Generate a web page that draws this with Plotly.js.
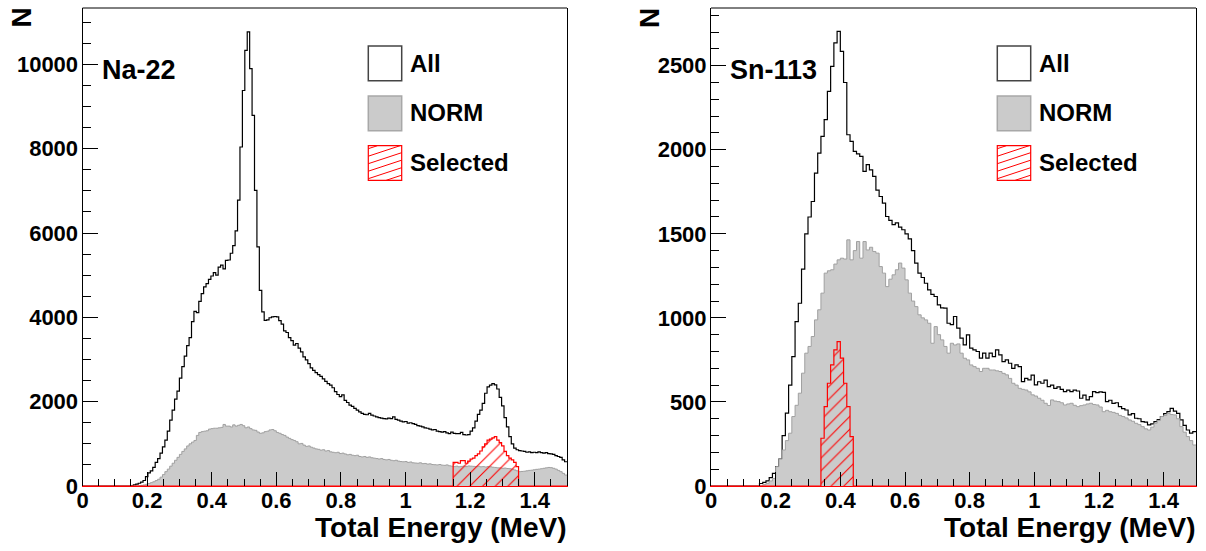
<!DOCTYPE html>
<html><head><meta charset="utf-8">
<script src="https://cdn.plot.ly/plotly-3.0.1.min.js"></script>
<style>html,body{margin:0;padding:0;background:#fff}#chart{width:1206px;height:551px}</style>
</head><body><div id="chart"></div>
<script>
// ---------------- data ----------------
// Na-22 : 200 bins of 0.0075 MeV from 0
const naBinWidth = 0.0075;
const naAll = [
0,0,0,0,0,0,0,0,0,0, 0,0,0,0,0,0,0,0,0,0,
10,25,45,65,90,130,220,310,360,440,
560,650,780,930,1090,1300,1560,1800,2060,2250,
2560,2830,3080,3330,3520,3900,4140,4110,4380,4560,
4720,4800,4900,4980,5060,5000,5190,5240,5150,5350,
5360,5520,5700,6050,6780,8040,9380,10330,10770,9900,
8790,7010,5670,4640,4130,3930,3940,3990,4010,4020,
4010,3920,3840,3680,3640,3520,3450,3340,3380,3270,
3180,3060,2990,2900,2800,2740,2690,2640,2600,2540,
2480,2430,2390,2330,2240,2170,2120,2160,2030,1980,
1920,1890,1840,1800,1760,1720,1700,1690,1720,1680,
1660,1640,1620,1610,1600,1590,1610,1600,1640,1580,
1560,1540,1520,1530,1490,1500,1480,1460,1430,1420,
1400,1380,1370,1350,1330,1340,1300,1290,1280,1290,
1260,1240,1280,1250,1240,1240,1270,1220,1210,1220,
1300,1380,1540,1700,1800,1960,2200,2350,2390,2430,
2400,2300,2100,1900,1620,1400,1170,1000,900,860,
840,830,820,800,810,790,800,790,810,790,
780,790,770,760,750,720,700,680,620,575];
const naNorm = [
0,0,0,0,0,0,0,0,0,0, 0,0,0,0,0,0,0,0,0,0,
0,0,0,5,15,25,40,60,80,100,
130,160,210,270,340,400,470,540,610,680,
750,820,880,950,1000,1040,1080,1200,1270,1290,
1300,1310,1350,1360,1370,1370,1380,1390,1460,1420,
1420,1400,1450,1420,1440,1460,1430,1380,1400,1360,
1330,1320,1280,1250,1260,1290,1300,1330,1340,1310,
1270,1250,1220,1200,1160,1130,1100,1080,1050,1000,
1010,970,940,950,920,900,880,870,850,860,
830,840,810,800,790,800,770,780,760,740,
750,730,720,730,700,690,700,680,690,670,
660,650,640,650,630,620,630,610,600,610,
590,580,575,580,560,570,550,545,540,550,
530,535,520,525,510,505,500,510,495,490,
500,480,470,460,470,455,465,470,460,475,
470,465,460,470,455,460,450,460,455,445,
440,430,430,420,425,415,410,400,380,360,
340,345,350,360,370,375,385,395,400,410,
420,430,440,435,420,400,370,340,300,260];
const naSelFirstBin = 153;
const naSelected = [560,560,540,600,600,540,590,640,660,720,760,830,930,1000,1090,1110,1140,1170,1090,1030,950,820,720,660,620,560,460];

// Sn-113 : 150 bins of 0.01 MeV from 0
const snBinWidth = 0.01;
const snAll = [
0,0,0,0,0,0,0,0,0,0, 0,0,0,0,0,
15,22,30,50,75,
115,160,300,433,600,770,978,1087,1290,1500,
1600,1692,1861,1980,2079,2179,2347,2496,2635,2704,
2585,2400,2089,2050,1990,1975,1960,1871,1911,1880,
1841,1760,1722,1683,1603,1580,1555,1565,1540,1524,
1500,1470,1400,1326,1266,1240,1206,1167,1140,1127,
1077,1060,1058,968,960,1008,939,880,839,899,
820,810,800,760,790,760,790,770,810,780,
740,750,730,700,720,710,621,640,631,660,
601,620,611,630,591,600,581,590,575,561,
570,561,570,565,522,540,512,532,561,555,
560,557,502,510,492,495,472,460,452,423,
430,403,400,383,380,363,370,383,395,413,
430,442,462,445,432,393,360,333,314,323];
const snNorm = [
0,0,0,0,0,0,0,0,0,0, 0,0,0,0,0,0,
8,16,30,45,
115,160,214,270,314,413,480,552,671,790,
830,889,988,1048,1147,1266,1280,1286,1320,1345,
1355,1350,1464,1345,1400,1454,1355,1454,1404,1420,
1395,1385,1305,1266,1186,1230,1256,1286,1326,1296,
1226,1147,1100,1067,1018,1000,988,968,849,948,
900,869,830,790,849,839,845,790,760,750,
720,710,700,681,700,700,690,690,685,681,
670,661,640,611,600,581,575,571,560,542,
535,522,510,492,479,512,505,502,495,482,
488,492,480,472,478,482,488,492,485,482,
470,442,450,442,438,432,420,413,405,393,
385,373,365,353,340,333,350,373,390,413,
420,432,425,423,400,353,320,294,270,244];
const snSelFirstBin = 34;
const snSelected = [284,472,611,720,810,859,760,611,472,294];

const panelLabels = ['Na-22', 'Sn-113'];
const legendLabels = ['All', 'NORM', 'Selected'];
const xTitle = 'Total Energy (MeV)';
const yTitle = 'N';

// ---------------- helpers ----------------
const W = 1206, H = 551;
const px = v => v / W;
const py = v => 1 - v / H;

function fullSel(n, first, vals) {
  const a = new Array(n).fill(0);
  vals.forEach((v, k) => { a[first + k] = v; });
  return a;
}
function stepXY(values, w) {
  const x = [], y = [];
  values.forEach((v, i) => { x.push(i * w); y.push(v); });
  x.push(values.length * w); y.push(values[values.length - 1]);
  return {x, y};
}
function hist(values, w, xa, ya, style) {
  const s = stepXY(values, w);
  return Object.assign({type: 'scatter', mode: 'lines', x: s.x, y: s.y, xaxis: xa, yaxis: ya,
    hoverinfo: 'skip', showlegend: false}, style);
}
const allStyle = {line: {shape: 'hv', color: '#000', width: 1.2}};
const normStyle = {line: {shape: 'hv', color: '#a0a0a0', width: 1}, fill: 'tozeroy', fillcolor: '#cbcbcb'};
const selStyle = {line: {shape: 'hv', color: '#ff0000', width: 1.2}, fill: 'tozeroy', fillcolor: 'rgba(0,0,0,0)',
  fillpattern: {shape: '/', fgcolor: '#ff0000', bgcolor: 'rgba(0,0,0,0)', size: 9, solidity: 0.12}};

const traces = [
  hist(naAll, naBinWidth, 'x', 'y', allStyle),
  hist(naNorm, naBinWidth, 'x', 'y', normStyle),
  hist(fullSel(naAll.length, naSelFirstBin, naSelected), naBinWidth, 'x', 'y', selStyle),
  hist(snAll, snBinWidth, 'x2', 'y2', allStyle),
  hist(snNorm, snBinWidth, 'x2', 'y2', normStyle),
  hist(fullSel(snAll.length, snSelFirstBin, snSelected), snBinWidth, 'x2', 'y2', selStyle)
];

// ---------------- layout ----------------
const FONT = 'Liberation Sans, Arial, Helvetica, sans-serif';
const tickFont = {family: FONT, size: 22, color: '#000', weight: 'bold'};
const plotTop = 8, plotBottom = 486;
const panels = [{l: 82.5, r: 567}, {l: 711, r: 1196}];
const yDom = [py(plotBottom), py(plotTop)];

function xAxis(p, anchor) {
  return {domain: [px(p.l), px(p.r)], anchor, range: [0, 1.5], tick0: 0, dtick: 0.2,
    ticks: 'inside', ticklen: 14, tickwidth: 1, tickcolor: '#000', ticklabelstandoff: -6,
    showline: true, linecolor: '#ff0000', linewidth: 1.2, mirror: false,
    showgrid: false, zeroline: false, tickfont: tickFont, fixedrange: true,
    minor: {ticks: 'inside', ticklen: 7, dtick: 0.05, tick0: 0, tickcolor: '#000', showgrid: false}};
}
function yAxis(anchor, top, dtick, mdtick) {
  return {domain: yDom, anchor, range: [0, top], tick0: 0, dtick, tickformat: 'd',
    ticks: 'inside', ticklen: 15, tickwidth: 1, tickcolor: '#000', ticklabelstandoff: -1,
    showline: true, linecolor: '#000', linewidth: 1, mirror: true,
    showgrid: false, zeroline: false, tickfont: tickFont, fixedrange: true,
    exponentformat: 'none', separatethousands: false,
    minor: {ticks: 'inside', ticklen: 8, dtick: mdtick, tick0: 0, tickcolor: '#000', showgrid: false}};
}

const shapes = [];
const annotations = [];
const legendBoxes = [{x0: 368.3, x1: 401.7}, {x0: 997.3, x1: 1030.7}];
const legendRows = [{y0: 46, y1: 80.7, c: 64}, {y0: 96, y1: 130.7, c: 113}, {y0: 145.7, y1: 180.3, c: 162}];

panels.forEach((p, k) => {
  // top frame line
  shapes.push({type: 'line', xref: 'paper', yref: 'paper', x0: px(p.l), x1: px(p.r), y0: py(plotTop), y1: py(plotTop),
    line: {color: '#000', width: 1}});
  // x title
  annotations.push({xref: 'paper', yref: 'paper', x: px(p.r + 2), y: py(527), xanchor: 'right', yanchor: 'middle',
    text: xTitle, showarrow: false, font: {family: FONT, size: 28, color: '#000', weight: 'bold'}});
  // y title
  annotations.push({xref: 'paper', yref: 'paper', x: px(p.l - 61), y: py(18), xanchor: 'center', yanchor: 'middle',
    text: yTitle, textangle: -90, showarrow: false, font: {family: FONT, size: 28, color: '#000', weight: 'bold'}});
  // panel label
  annotations.push({xref: 'paper', yref: 'paper', x: px(p.l + 17), y: py(70), xanchor: 'left', yanchor: 'middle',
    text: panelLabels[k], showarrow: false, font: {family: FONT, size: 27, color: '#000', weight: 'bold'}});
  // legend
  const b = legendBoxes[k];
  legendRows.forEach((r, j) => {
    const base = {type: 'rect', xref: 'paper', yref: 'paper', x0: px(b.x0), x1: px(b.x1), y0: py(r.y1), y1: py(r.y0)};
    if (j === 0) shapes.push(Object.assign(base, {fillcolor: '#fff', line: {color: '#444', width: 1.5}}));
    if (j === 1) shapes.push(Object.assign(base, {fillcolor: '#cbcbcb', line: {color: '#a8a8a8', width: 1.5}}));
    if (j === 2) {
      shapes.push(Object.assign(base, {fillcolor: 'rgba(0,0,0,0)', line: {color: '#ff0000', width: 1.2}}));
      const m = 0.33, d = 7.5;
      for (let c = r.y0 + 3; c < r.y1 + m * (b.x1 - b.x0); c += d) {
        let xa = Math.max(b.x0, b.x0 + (c - r.y1) / m);
        let xb = Math.min(b.x1, b.x0 + (c - r.y0) / m);
        if (xb - xa > 0.5) {
          const ya = c - m * (xa - b.x0), yb = c - m * (xb - b.x0);
          shapes.push({type: 'line', xref: 'paper', yref: 'paper', x0: px(xa), x1: px(xb), y0: py(ya), y1: py(yb),
            line: {color: '#ff0000', width: 1}});
        }
      }
    }
    annotations.push({xref: 'paper', yref: 'paper', x: px(b.x1 + 6), y: py(r.c), xanchor: 'left', yanchor: 'middle',
      text: legendLabels[j], showarrow: false, font: {family: FONT, size: 24, color: '#000', weight: 'bold'}});
  });
});

const layout = {
  width: W, height: H, margin: {l: 0, r: 0, t: 0, b: 0},
  paper_bgcolor: '#fff', plot_bgcolor: '#fff', showlegend: false,
  xaxis: xAxis(panels[0], 'y'),
  yaxis: yAxis('x', 11336, 2000, 500),
  xaxis2: xAxis(panels[1], 'y2'),
  yaxis2: yAxis('x2', 2843, 500, 100),
  shapes, annotations
};

Plotly.newPlot('chart', traces, layout, {staticPlot: true, displayModeBar: false});
</script>
</body></html>
